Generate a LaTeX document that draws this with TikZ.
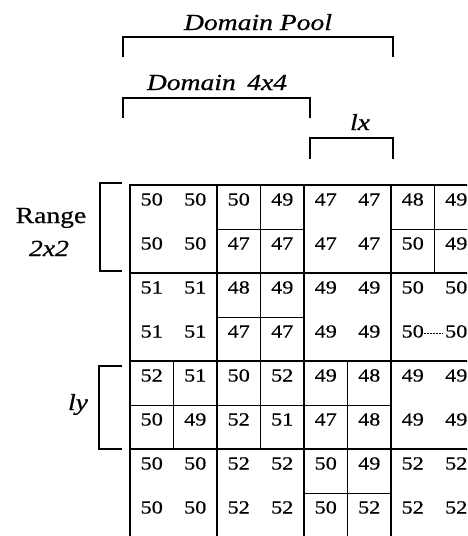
\documentclass[tikz,border=0pt]{standalone}
\usepackage{fontspec}
\setmainfont[FakeStretch=1.2, FakeBold=0.6]{Liberation Serif}
\usetikzlibrary{positioning}
\def\cellw{43.5}
\def\cellh{44}

\begin{document}
\begin{tikzpicture}[x=1pt, y=-1pt,
    val/.style={font=\fontsize{18.5}{18.5}\selectfont, inner sep=0pt, anchor=base},
    lbl/.style={font=\fontsize{23}{23}\selectfont\itshape, inner sep=0pt, anchor=base},
    cellline/.style={line width=1pt},
    blockline/.style={line width=1.3pt},
    boldline/.style={line width=2.3pt},
    bracket/.style={line width=1.4pt}]
    \useasboundingbox (0,0) rectangle (467,536);

    % the labelled brackets
    \draw[bracket] (123,57) -- (123,37) -- (393,37) -- (393,57);
    \node[lbl] (pool) at (258,30) {Domain Pool};
    \draw[bracket] (123,118) -- (123,98) -- (310,98) -- (310,118);
    \node[lbl] (dom) at (217,90) {Domain\enspace 4x4};
    \draw[bracket] (310,159) -- (310,138) -- (393,138) -- (393,159);
    \node[lbl] (lx) at (360,130) {lx};

    \draw[bracket] (122,183) -- (100,183) -- (100,271) -- (122,271);
    \node[lbl, font=\fontsize{23}{23}\selectfont] (range) at (51,223) {Range};
    \node[lbl] (rangesz) at (49,256) {2x2};
    \draw[bracket] (122,366) -- (99,366) -- (99,449) -- (122,449);
    \node[lbl] (ly) at (78,410) {ly};

    \begin{scope}
    \clip (0,0) rectangle (467,536);
    % block lines
    \foreach \k in {0,...,4} {
        \draw[blockline] ({130+2*\cellw*\k},185) -- ({130+2*\cellw*\k},540);
        \draw[blockline] (130,{185+2*\cellh*\k}) -- (480,{185+2*\cellh*\k});
    }
    % blocks split into single cells
    \foreach \bx/\by in {1/0,3/0,1/1,0/2,1/2,2/2,2/3} {
        \draw[cellline] ({130+2*\cellw*\bx+\cellw},{185+2*\cellh*\by})
            -- ++(0,{2*\cellh});
        \draw[cellline] ({130+2*\cellw*\bx},{185+2*\cellh*\by+\cellh})
            -- ++({2*\cellw},0);
    }
    % range, domain and pool outlines
    \draw[boldline] (130,185) rectangle (217,273);
    \draw[boldline] (130,185) rectangle (304,361);
    \draw[boldline] (130,185) rectangle (391,449);
    \draw[line width=0.5pt, densely dotted] (422,333) -- (443,333);

    % pixel values
    \foreach \row [count=\r from 0] in {
        {50,50,50,49,47,47,48,49},
        {50,50,47,47,47,47,50,49},
        {51,51,48,49,49,49,50,50},
        {51,51,47,47,49,49,50,50},
        {52,51,50,52,49,48,49,49},
        {50,49,52,51,47,48,49,49},
        {50,50,52,52,50,49,52,52},
        {50,50,52,52,50,52,52,52}} {
        \foreach \v [count=\c from 0] in \row {
            \node[val] (v\r\c) at ({130+\cellw*(\c+0.5)},{185+\cellh*\r+20.5}) {\v};
        }
    }
    \end{scope}
\end{tikzpicture}
\end{document}
